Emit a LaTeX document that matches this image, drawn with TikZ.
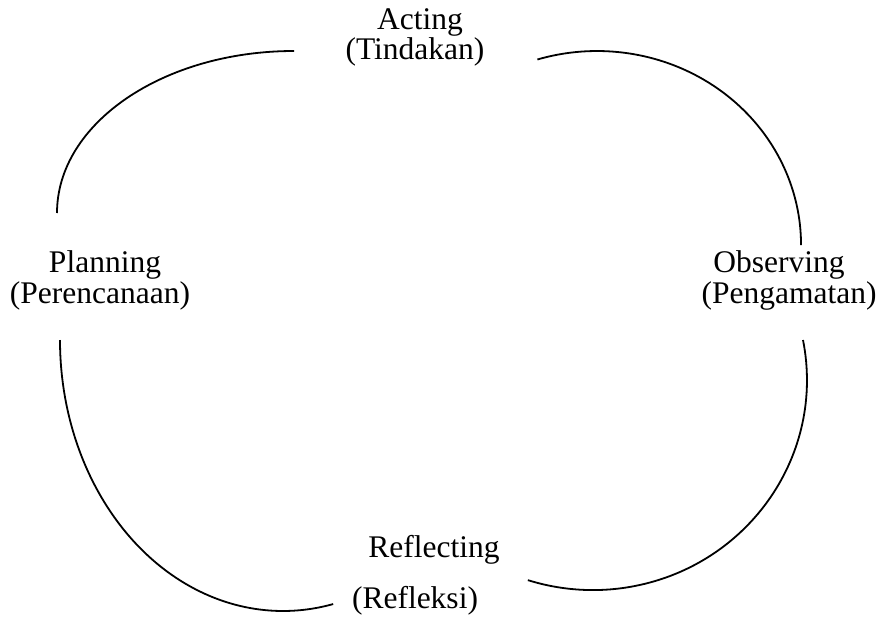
\documentclass[tikz,border=0pt]{standalone}
\usepackage{fontspec}
\setmainfont{Liberation Serif}
\usepackage{tikz}
\usetikzlibrary{positioning}

\begin{document}
\begin{tikzpicture}[x=0.5pt, y=0.5pt,
    lbl/.style={anchor=base, inner sep=0pt, font=\fontsize{15.75}{18}\selectfont},
    cyc/.style={line width=0.9pt}]
    \useasboundingbox (0,0) rectangle (883,618);
    % labels of the cycle
    \node[lbl] (act)  at (420,589) {Acting};
    \node[lbl] (actid) at (415,559) {(Tindakan)};
    \node[lbl] (obs)  at (779,346) {Observing};
    \node[lbl] (obsid) at (789,315) {(Pengamatan)};
    \node[lbl] (ref)  at (434,61) {Reflecting};
    \node[lbl] (refid) at (415,10) {(Refleksi)};
    \node[lbl] (plan) at (105,346) {Planning};
    \node[lbl] (planid) at (100,315) {(Perencanaan)};
    % arc ends
    \coordinate (pa) at (57,405);
    \coordinate (ao) at (537.4,558.5);
    \coordinate (or) at (803,278);
    \coordinate (rp) at (60,278);
    % arcs
    \draw[cyc] (pa) arc[start angle=180, end angle=90, x radius=237, y radius=162];
    \draw[cyc] (ao) arc[start angle=107, end angle=0, x radius=204, y radius=194];
    \draw[cyc] (or) arc[start angle=11, end angle=-107.7, x radius=214, y radius=210];
    \draw[cyc] (rp) arc[start angle=180, end angle=283, x radius=223, y radius=271];
\end{tikzpicture}
\end{document}
